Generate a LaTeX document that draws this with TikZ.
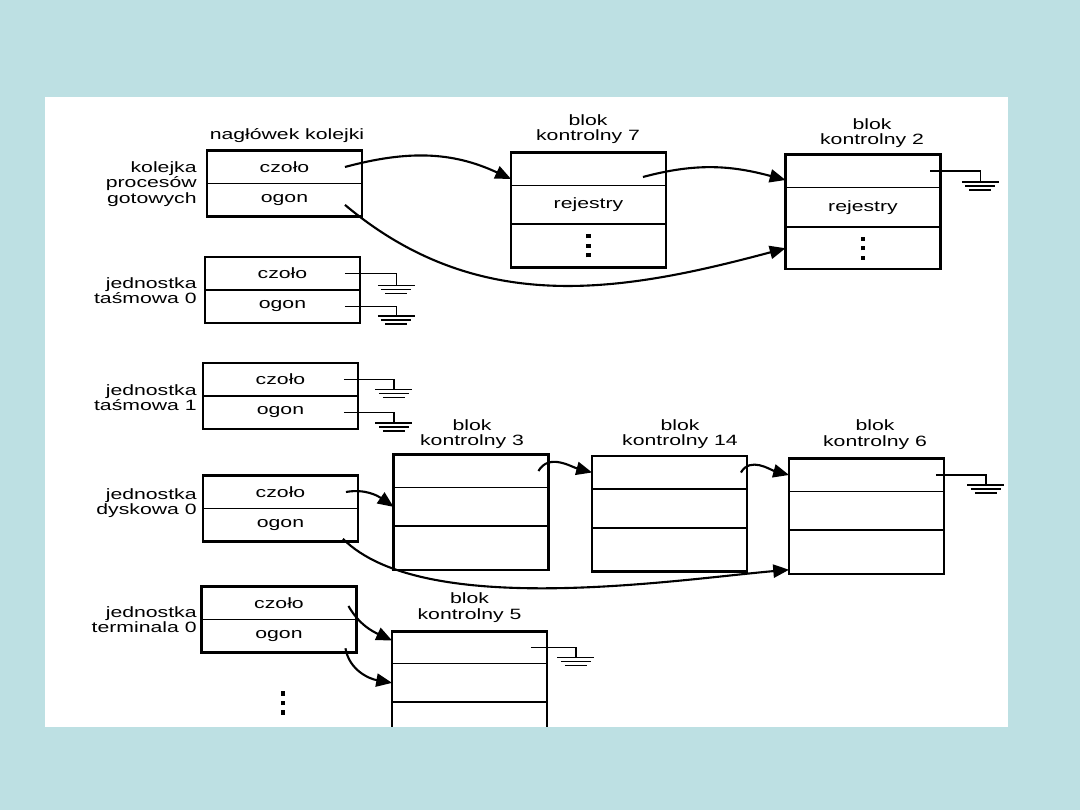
\documentclass[tikz,border=0pt]{standalone}
\usepackage{fontspec}
\usepackage{tikz}
\usetikzlibrary{arrows.meta,positioning,fit}
\newfontfamily\qfont[FakeStretch=1.42]{Liberation Sans}
\newcommand\lblfont{\qfont\fontsize{8.5}{8.7}\selectfont}
\newcommand\mydots{\vbox{\baselineskip5.4pt\lineskiplimit0pt\hbox{\rule{2.3pt}{2.3pt}}\hbox{\rule{2.3pt}{2.3pt}}\hbox{\rule{2.3pt}{2.3pt}}}}
\definecolor{SlideBg}{RGB}{189,224,227}
\tikzset{gnd/.pic={\draw[line width=1.1pt] (-0.37,0) -- (0.37,0) (-0.3,-0.08) -- (0.3,-0.08) (-0.22,-0.16) -- (0.22,-0.16);}}

\begin{document}
\begin{tikzpicture}[
  cell/.style={draw,line width=0.5pt,minimum width=3.08cm,minimum height=#1,inner sep=0pt,font=\lblfont},
  cell/.default=0.64cm,
  frm/.style={draw,line width=1.4pt,inner sep=0pt,fit=#1},
  lbl/.style={font=\lblfont,align=center,inner sep=0pt},
  side/.style={lbl,align=right,anchor=east},
  arr/.style={-{Triangle[length=9pt,width=7.5pt]},line width=1.2pt},
  wire/.style={line width=0.9pt},
]
\fill[SlideBg] (0,0) rectangle (21.6,16.2);
\fill[white] (0.9,1.66) rectangle (20.16,14.26);
\begin{scope}
\clip (0.9,1.66) rectangle (20.16,14.26);
% naglowki kolejek
\node[cell] (kolC) at (5.69,12.86) {czoło};
\node[cell,below=0pt of kolC] (kolO) {ogon};
\node[frm=(kolC)(kolO)] (kol) {};
\node[cell] (t0c) at (5.65,10.73) {czoło};
\node[cell,below=0pt of t0c] (t0o) {ogon};
\node[frm=(t0c)(t0o)] (t0) {};
\node[cell] (t1c) at (5.61,8.61) {czoło};
\node[cell,below=0pt of t1c] (t1o) {ogon};
\node[frm=(t1c)(t1o)] (t1) {};
\node[cell] (d0c) at (5.61,6.36) {czoło};
\node[cell,below=0pt of d0c] (d0o) {ogon};
\node[frm=(d0c)(d0o)] (d0) {};
\node[cell] (tm0c) at (5.58,4.14) {czoło};
\node[cell,below=0pt of tm0c] (tm0o) {ogon};
\node[frm=(tm0c)(tm0o)] (tm0) {};
\node[lbl] (kolHead) at (5.74,13.48) {nagłówek kolejki};
\node[side] (kolLbl) at (3.94,12.52) {kolejka\\procesów\\gotowych};
\node[side] (t0Lbl) at (3.94,10.38) {jednostka\\taśmowa 0};
\node[side] (t1Lbl) at (3.94,8.25) {jednostka\\taśmowa 1};
\node[side] (d0Lbl) at (3.94,6.14) {jednostka\\dyskowa 0};
\node[side] (tm0Lbl) at (3.94,3.81) {jednostka\\terminala 0};
\node[lbl] (more) at (5.66,2.14) {\mydots};
% bloki kontrolne
\node[cell] (b7a) at (11.77,12.82) {};
\node[cell=0.75cm,below=0pt of b7a] (b7b) {rejestry};
\node[cell=0.86cm,below=0pt of b7b] (b7c) {\mydots};
\node[frm=(b7a)(b7c)] (b7) {};
\node[cell] (b2a) at (17.26,12.78) {};
\node[cell=0.78cm,below=0pt of b2a] (b2b) {rejestry};
\node[cell=0.82cm,below=0pt of b2b] (b2c) {\mydots};
\node[frm=(b2a)(b2c)] (b2) {};
\node[cell] (b3a) at (9.42,6.78) {};
\node[cell=0.76cm,below=0pt of b3a] (b3b) {};
\node[cell=0.86cm,below=0pt of b3b] (b3c) {};
\node[frm=(b3a)(b3c)] (b3) {};
\node[cell] (b14a) at (13.39,6.75) {};
\node[cell=0.76cm,below=0pt of b14a] (b14b) {};
\node[cell=0.86cm,below=0pt of b14b] (b14c) {};
\node[frm=(b14a)(b14c)] (b14) {};
\node[cell] (b6a) at (17.33,6.70) {};
\node[cell=0.76cm,below=0pt of b6a] (b6b) {};
\node[cell=0.86cm,below=0pt of b6b] (b6c) {};
\node[frm=(b6a)(b6c)] (b6) {};
\node[cell=0.62cm] (b5a) at (9.39,3.25) {};
\node[cell=0.76cm,below=0pt of b5a] (b5b) {};
\node[cell=0.86cm,below=0pt of b5b] (b5c) {};
\node[frm=(b5a)(b5c)] (b5) {};
\node[lbl] (b7Lbl) at (11.76,13.61) {blok\\kontrolny 7};
\node[lbl] (b2Lbl) at (17.44,13.54) {blok\\kontrolny 2};
\node[lbl] (b3Lbl) at (9.44,7.52) {blok\\kontrolny 3};
\node[lbl] (b14Lbl) at (13.6,7.52) {blok\\kontrolny 14};
\node[lbl] (b6Lbl) at (17.5,7.51) {blok\\kontrolny 6};
\node[lbl] (b5Lbl) at (9.39,4.05) {blok\\kontrolny 5};
% wskazniki
\draw[arr] ([xshift=-0.34cm]kolC.east) to[out=15,in=155] ([yshift=-0.2cm]b7a.west);
\draw[arr] ([xshift=-0.34cm,yshift=-0.1cm]kolO.east) to[out=-40,in=195] (b2c.west);
\draw[arr] ([xshift=-0.46cm,yshift=-0.16cm]b7a.east) to[out=15,in=165] ([yshift=-0.18cm]b2a.west);
\draw[arr] ([xshift=-0.24cm]d0c.east) to[out=10,in=145] (b3b.west);
\draw[arr] ([xshift=-0.3cm,yshift=0.05cm]d0o.south east) to[out=-45,in=185,looseness=0.65] ([yshift=-0.35cm]b6c.west);
\draw[arr] ([xshift=-0.2cm]b3a.east) to[out=60,in=165] (b14a.west);
\draw[arr] ([xshift=-0.12cm]b14a.east) to[out=60,in=165] (b6a.west);
\draw[arr] ([xshift=-0.16cm,yshift=-0.06cm]tm0c.east) to[out=-60,in=155] ([yshift=0.14cm]b5a.west);
\draw[arr] ([xshift=-0.22cm,yshift=0.08cm]tm0o.south east) to[out=-80,in=170] (b5b.west);
% uziemienia
\draw[wire] ([xshift=-0.2cm]b2a.east) -- ++(1.0,0) -- ++(0,-0.22) pic{gnd};
\draw[wire] ([xshift=-0.16cm]b6a.east) -- ++(1.0,0) -- ++(0,-0.2) pic{gnd};
\draw[wire] ([xshift=-0.32cm]b5a.east) -- ++(0.9,0) -- ++(0,-0.2) pic{gnd};
\draw[wire] ([xshift=-0.3cm]t0c.east) -- ++(1.03,0) -- ++(0,-0.24) pic{gnd};
\draw[wire] ([xshift=-0.3cm]t0o.east) -- ++(1.03,0) -- ++(0,-0.2) pic{gnd};
\draw[wire] ([xshift=-0.28cm]t1c.east) -- ++(1.0,0) -- ++(0,-0.2) pic{gnd};
\draw[wire] ([xshift=-0.28cm]t1o.east) -- ++(1.0,0) -- ++(0,-0.22) pic{gnd};
\end{scope}
\end{tikzpicture}
\end{document}
